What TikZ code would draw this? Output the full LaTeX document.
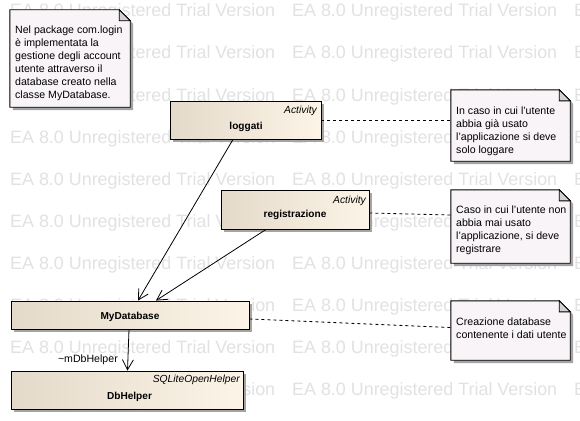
\documentclass[tikz,border=0pt]{standalone}
\usepackage{fontspec}
\setmainfont{Liberation Sans}
\usetikzlibrary{arrows.meta,shadows,calc}
\definecolor{boxL}{HTML}{E4DACA}
\definecolor{boxR}{HTML}{FCF4E7}
\definecolor{notefill}{HTML}{F8F4F8}
\definecolor{foldfill}{HTML}{D2D2D2}
\definecolor{shadowc}{HTML}{A4A4A4}
\definecolor{wmark}{HTML}{E2E2E2}
\newcommand\notelines[1]{\begin{tabular}[t]{@{}l@{}}#1\end{tabular}}
\newcommand\drawnote[1]{%
  \fill[shadowc] ($(#1.north west)+(3,3)$) -- ($(#1.north east)+(-8,3)$) -- ($(#1.north east)+(3,14)$) -- ($(#1.south east)+(3,3)$) -- ($(#1.south west)+(3,3)$) -- cycle;
  \filldraw[notepath, fill=notefill] (#1.north west) -- ($(#1.north east)+(-11,0)$) -- ($(#1.north east)+(0,11)$) -- (#1.south east) -- (#1.south west) -- cycle;
  \filldraw[notepath, fill=foldfill] ($(#1.north east)+(-11,0)$) -- ($(#1.north east)+(-11,11)$) -- ($(#1.north east)+(0,11)$) -- cycle;
}
\begin{document}
\begin{tikzpicture}[x=1pt,y=-1pt,
  wm/.style={font=\fontsize{17.9}{20}\selectfont, text=wmark, inner sep=0pt, anchor=base west},
  lbl/.style={font=\fontsize{10.6}{13}\selectfont, inner sep=0pt, text=black},
  namelbl/.style={font=\fontsize{10.1}{12}\selectfont\bfseries, inner sep=0pt, text=black, anchor=base},
  stereo/.style={font=\fontsize{10.3}{12}\selectfont\itshape, inner sep=0pt, text=black, anchor=base east},
  elem/.style={draw=black, line width=0.9pt, left color=boxL, right color=boxR, inner sep=0pt,
    drop shadow={shadow xshift=3pt, shadow yshift=-3pt, fill=shadowc, opacity=1}},
  notebg/.style={inner sep=0pt},
  notepath/.style={draw=black, line width=0.9pt, line join=miter},
  assoc/.style={draw=black, line width=0.8pt, -{Straight Barb[length=10pt,width=11pt,line width=0.8pt]}},
  anchorline/.style={draw=black, line width=0.8pt, dash pattern=on 3pt off 3pt}
]
\useasboundingbox[fill=white] (0,0) rectangle (580,420);
% watermark
\begin{scope}
\clip (0,0) rectangle (580,420);
\foreach \r in {0,...,9}{
  \foreach \c in {0,1,2}{
    \node[wm] (wm-\r-\c) at ({10+282*\c},{17+42*\r}) {EA 8.0 Unregistered Trial Version};
  }
}
\end{scope}

% notes
\node[notebg, minimum width=120pt, minimum height=97pt] (n1) at (70,58.5) {};
\node[notebg, minimum width=119pt, minimum height=71pt] (n2) at (510.5,125.5) {};
\node[notebg, minimum width=119pt, minimum height=73pt] (n3) at (510.5,226.5) {};
\node[notebg, minimum width=119pt, minimum height=59pt] (n4) at (510.5,330.5) {};
\drawnote{n1}
\drawnote{n2}
\drawnote{n3}
\drawnote{n4}
\node[lbl, anchor=base west] (t1) at (15,34) {\notelines{Nel package com.login\\è implementata la\\gestione degli account\\utente attraverso il\\database creato nella\\classe MyDatabase.}};
\node[lbl, anchor=base west] (t2) at (456,114) {\notelines{In caso in cui l'utente\\abbia già usato\\l'applicazione si deve\\solo loggare}};
\node[lbl, anchor=base west] (t3) at (456,213) {\notelines{Caso in cui l'utente non\\abbia mai usato\\l'applicazione, si deve\\registrare}};
\node[lbl, anchor=base west] (t4) at (456,325) {\notelines{Creazione database\\contenente i dati utente}};

% elements
\node[elem, minimum width=151pt, minimum height=38pt] (lg) at (245.5,120) {};
\node[elem, minimum width=148pt, minimum height=39pt] (reg) at (295,209.5) {};
\node[elem, minimum width=238pt, minimum height=28pt] (db) at (130,315) {};
\node[elem, minimum width=232pt, minimum height=38pt] (dbh) at (127,390) {};

\node[stereo] (lgst) at (317,113) {Activity};
\node[namelbl] (lgnm) at (246,129) {loggati};
\node[stereo] (regst) at (366,203) {Activity};
\node[namelbl] (regnm) at (295,217.5) {registrazione};
\node[namelbl] (dbnm) at (130,319) {MyDatabase};
\node[stereo] (dbhst) at (240,382) {SQLiteOpenHelper};
\node[namelbl] (dbhnm) at (129.5,399) {DbHelper};

% connectors
\draw[assoc] ([xshift=-12.5pt]lg.south) -- ([xshift=8pt]db.north);
\draw[assoc] ([xshift=-29pt]reg.south) -- ([xshift=26pt]db.north);
\draw[assoc] ([xshift=-1pt]db.south) -- ([xshift=0.5pt]dbh.north);
\node[lbl, anchor=base east] (role) at (118,362) {\textasciitilde mDbHelper};

\draw[anchorline] (lg.east) -- ([yshift=5.5pt]n2.west);
\draw[anchorline] ([yshift=-3.5pt]reg.east) -- ([yshift=11.5pt]n3.west);
\draw[anchorline] ([yshift=-4pt]db.east) -- ([yshift=3pt]n4.west);
\end{tikzpicture}
\end{document}
